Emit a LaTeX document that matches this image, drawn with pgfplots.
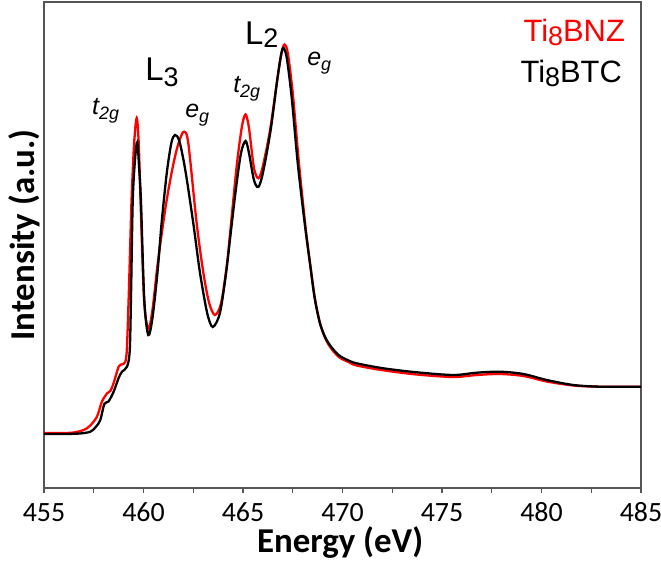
\documentclass[border=0pt]{standalone}
\usepackage{fontspec}
\setmainfont{Carlito}
\newfontfamily\arial{Liberation Sans}
\usepackage{pgfplots}
\pgfplotsset{compat=1.18}
\definecolor{framegray}{HTML}{555555}
\definecolor{curvered}{HTML}{FF0000}

% Ti8BTC (black)
\pgfplotstableread{
E Y
455.00 54
456.00 54
456.80 54.5
457.33 56.3
457.60 61
457.83 68
458.03 84
458.24 86.5
458.50 96.3
458.75 110
458.92 116.3
459.17 121.3
459.31 138
459.38 200
459.46 288
459.58 330
459.69 346
459.78 320
459.87 288
460.04 188
460.24 153
460.45 170
460.70 215
460.91 265
461.17 315
461.40 345
461.58 353
461.80 347
462.10 318
462.50 265
462.84 215
463.20 175
463.48 161
463.84 175
464.15 215
464.40 258
464.65 300
464.90 335
465.13 347
465.30 335
465.55 308
465.77 301
466.00 315
466.39 358
466.72 408
466.90 432
467.03 440
467.20 430
467.45 390
467.75 325
468.08 268
468.37 224
468.60 190
468.85 166
469.10 152
469.40 142
469.80 133
470.25 128
470.71 124.7
472.05 119.7
473.73 115.7
475.57 113
476.74 115.3
477.91 116.3
479.09 114
480.26 108
481.60 103
482.94 101.3
485.00 101.3
}\tblack

% Ti8BNZ (red)
\pgfplotstableread{
E Y
455.00 55
456.00 55
456.50 55.5
456.99 58
457.30 62
457.66 71.3
457.91 86.3
458.17 94.7
458.33 97
458.50 105
458.75 121.3
458.92 123.7
459.09 126.3
459.17 141.3
459.27 200
459.40 288
459.53 345
459.66 370
459.76 345
459.85 288
460.03 188
460.24 159
460.45 178
460.70 222
460.99 265
461.20 292
461.42 316
461.65 337
461.85 350
462.04 356.3
462.25 345
462.67 265
463.01 215
463.30 185
463.59 173
463.90 185
464.20 225
464.45 275
464.70 325
464.95 362
465.13 373.5
465.30 360
465.55 320
465.78 309.7
466.00 322
466.36 358
466.72 408
466.95 436
467.09 443.5
467.25 435
467.50 395
467.81 325
468.17 256
468.40 220
468.62 189
468.88 164
469.15 149
469.45 139
469.85 130.5
470.30 126
470.71 122.5
472.05 117.7
473.73 113.5
475.57 111
476.74 113
477.91 114
479.09 112
480.26 106.5
481.60 102.5
482.94 101.3
485.00 101.3
}\tred

\begin{document}
\begin{tikzpicture}
\begin{axis}[
  width=597bp, height=486bp, scale only axis,
  xmin=455, xmax=485, ymin=0, ymax=486,
  xtick={455,460,...,485},
  minor xtick={457.5,462.5,...,482.5},
  ytick=\empty,
  xtick pos=left,
  tick align=outside,
  major tick length=5bp, minor tick length=5bp,
  axis line style={framegray, line width=1.2bp},
  tick style={framegray, line width=1.2bp},
  /pgf/number format/assume math mode=true,
  /pgf/number format/1000 sep={},
  xticklabel style={font=\fontsize{28}{28}\selectfont, anchor=base, yshift=-28bp},
  xlabel={Energy (eV)},
  ylabel={Intensity (a.u.)},
  xlabel style={at={(axis description cs:0.496,-0.1337)}, anchor=base, font=\bfseries\fontsize{35}{35}\selectfont},
  ylabel style={at={(axis description cs:-0.0151,0.5206)}, anchor=base, rotate=0, font=\bfseries\fontsize{35}{35}\selectfont},
  clip=false,
]
\addplot[curvered, line width=2.3bp, smooth] table[x=E, y=Y] {\tred};
\addplot[black, line width=2.3bp, smooth] table[x=E, y=Y] {\tblack};

\node[anchor=base west, inner sep=0] at (axis cs:457.41,373) {\arial\itshape\fontsize{25}{25}\selectfont t\raisebox{-5bp}{\fontsize{18}{18}\selectfont 2g}};
\node[anchor=base west, inner sep=0] at (axis cs:460.08,407) {\arial\fontsize{33}{33}\selectfont L\raisebox{-6bp}{\fontsize{27}{27}\selectfont 3}};
\node[anchor=base west, inner sep=0] at (axis cs:462.09,370) {\arial\itshape\fontsize{25}{25}\selectfont e\raisebox{-5bp}{\fontsize{18}{18}\selectfont g}};
\node[anchor=base west, inner sep=0] at (axis cs:464.50,395) {\arial\itshape\fontsize{25}{25}\selectfont t\raisebox{-5bp}{\fontsize{18}{18}\selectfont 2g}};
\node[anchor=base west, inner sep=0] at (axis cs:465.10,443) {\arial\fontsize{33}{33}\selectfont L\raisebox{-3bp}{\fontsize{27}{27}\selectfont 2}};
\node[anchor=base west, inner sep=0] at (axis cs:468.22,422) {\arial\itshape\fontsize{25}{25}\selectfont e\raisebox{-5bp}{\fontsize{18}{18}\selectfont g}};

\node[anchor=base east, inner sep=0, text=curvered] at (axis cs:484.2,446) {\arial\fontsize{31}{31}\selectfont Ti\raisebox{-4bp}{\fontsize{27}{27}\selectfont 8}BNZ};
\node[anchor=base east, inner sep=0, text=black] at (axis cs:484.05,405) {\arial\fontsize{31}{31}\selectfont Ti\raisebox{-4bp}{\fontsize{27}{27}\selectfont 8}BTC};
\end{axis}
\pgfresetboundingbox
\path ([shift={(-44bp,-76bp)}]current axis.south west) rectangle ([shift={(20bp,2bp)}]current axis.north east);
\end{tikzpicture}
\end{document}
